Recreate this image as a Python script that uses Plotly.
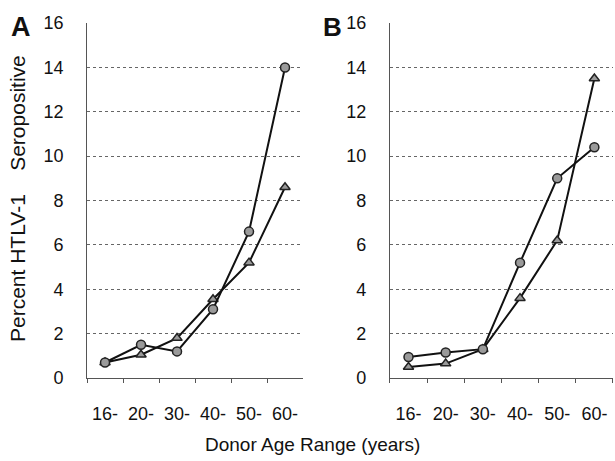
import plotly.graph_objects as go

categories = ["16-", "20-", "30-", "40-", "50-", "60-"]
a_circle = [0.7, 1.5, 1.2, 3.1, 6.6, 14.0]
a_triangle = [0.7, 1.05, 1.8, 3.55, 5.2, 8.6]
b_circle = [0.95, 1.15, 1.3, 5.2, 9.0, 10.4]
b_triangle = [0.5, 0.65, 1.3, 3.6, 6.2, 13.5]
y_ticks = [0, 2, 4, 6, 8, 10, 12, 14, 16]

W, H = 615, 461
fig = go.Figure()

def add_series(y, xa, ya, symbol):
    fig.add_trace(go.Scatter(
        x=categories, y=y, xaxis=xa, yaxis=ya, mode="lines+markers",
        line=dict(color="#111111", width=2),
        marker=dict(symbol=symbol, size=9, color="#9a9a9a",
                    line=dict(color="#222222", width=1.5)),
        showlegend=False, cliponaxis=False))

add_series(a_triangle, "x", "y", "triangle-up")
add_series(a_circle, "x", "y", "circle")
add_series(b_triangle, "x2", "y2", "triangle-up")
add_series(b_circle, "x2", "y2", "circle")

FONT = "Liberation Sans, Arial, sans-serif"
tickfont = dict(family=FONT, size=18, color="#111111")
xcommon = dict(type="category", categoryorder="array", categoryarray=categories,
               range=[-0.5, 5.5], tickson="boundaries", ticks="outside", ticklen=4,
               tickcolor="#555555", showgrid=False, showline=True, linecolor="#555555",
               linewidth=1, tickfont=tickfont, zeroline=False, ticklabelstandoff=19,
               automargin=False)
ycommon = dict(range=[0, 16], tickvals=y_ticks, showgrid=True, gridcolor="#666666",
               griddash="dot", gridwidth=1, showline=True, linecolor="#555555",
               linewidth=1, ticks="", tickfont=tickfont, zeroline=False, ticklabelstandoff=19,
               automargin=False)

def ann(text, px, py, size, angle=0):
    return dict(text=text, x=px / W, y=1 - py / H, xref="paper", yref="paper",
                xanchor="center", yanchor="middle", showarrow=False, textangle=angle,
                font=dict(family=FONT, size=size, color="#111111"))

fig.update_layout(
    width=W, height=H, margin=dict(l=0, r=0, t=0, b=0, pad=0, autoexpand=False),
    paper_bgcolor="white", plot_bgcolor="white",
    xaxis=dict(domain=[0.1415, 0.4927], anchor="y", **xcommon),
    yaxis=dict(domain=[0.18, 0.95], anchor="x", **ycommon),
    xaxis2=dict(domain=[0.634, 0.9967], anchor="y2", **xcommon),
    yaxis2=dict(domain=[0.18, 0.95], anchor="x2", **ycommon),
    annotations=[
        ann("<b>A</b>", 21, 27, 27),
        ann("<b>B</b>", 332, 27, 26),
        ann("Percent HTLV-1&nbsp;&nbsp;&nbsp;&nbsp;Seropositive", 17, 199, 21, -90),
        ann("Donor Age Range (years)", 312, 444, 19),
    ],
)

fig.write_html("out.html", config={"displayModeBar": False},
               post_script="document.body.style.margin='0';")
